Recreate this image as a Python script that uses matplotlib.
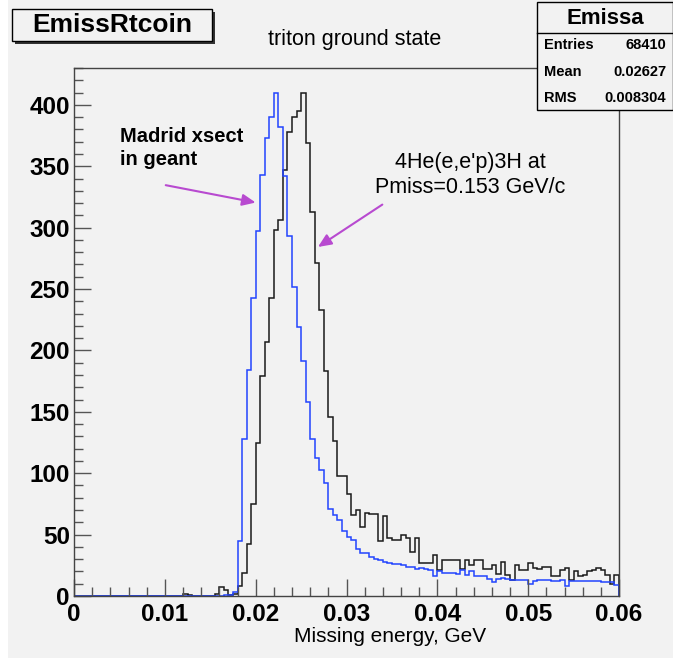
import numpy as np
import matplotlib
matplotlib.use('Agg')
from matplotlib import pyplot as plt
from matplotlib.patches import Rectangle
from matplotlib.ticker import MultipleLocator, FuncFormatter

plt.rcParams['font.family'] = ['Liberation Sans', 'DejaVu Sans']

# binning: 120 bins over 0 - 0.06 GeV
edges = np.linspace(0.0, 0.06, 121)

# 4He(e,e'p)3H data, black histogram (counts)
data_counts = [0] * 24 + [
    2, 1, 0, 0, 0, 0, 0, 2, 7, 5,            # 24-33
    1, 2, 8, 19, 42, 75, 125, 179, 207, 243,  # 34-43
    298, 306, 347, 378, 390, 395, 410, 369, 313, 271,  # 44-53
    233, 183, 146, 126, 98, 98, 83, 66, 70, 56,  # 54-63
    68, 67, 67, 45, 65, 47, 46, 46, 50, 47,   # 64-73
    36, 47, 27, 27, 27, 33, 21, 29, 29, 29,   # 74-83
    29, 22, 29, 25, 29, 29, 22, 22, 25, 18,   # 84-93
    28, 17, 13, 25, 21, 21, 27, 23, 22, 24,   # 94-103
    24, 16, 16, 21, 23, 13, 20, 16, 17, 20,   # 104-113
    21, 23, 21, 17, 10, 17,                   # 114-119
]

# Madrid cross section in geant, blue histogram
sim_counts = [0] * 33 + [
    1, 1, 3, 45, 128, 184, 243, 297, 343,     # 33-41
    373, 390, 410, 382, 342, 293, 252, 219, 191, 158,  # 42-51
    128, 112, 103, 92, 71, 66, 62, 53, 48, 46,  # 52-61
    38, 35, 35, 32, 30, 29, 28, 27, 26, 26,   # 62-71
    25, 24, 24, 22, 23, 22, 21, 16, 20, 19,   # 72-81
    19, 19, 18, 21, 17, 20, 16, 16, 16, 14,   # 82-91
    11, 14, 15, 14, 13, 13, 13, 13, 10, 12,   # 92-101
    13, 13, 13, 12, 12, 13, 8, 12, 12, 12,    # 102-111
    12, 12, 12, 12, 11, 11, 11, 9,            # 112-119
]

W, H = 673, 660
bg = '#f2f2f2'


def fx(x):
    return x / W


def fy(y):
    return 1 - y / H


fig = plt.figure(figsize=(W / 100, H / 100), dpi=100, facecolor='white')
fig.patches.append(Rectangle((fx(8), fy(658)), 1, 1, transform=fig.transFigure,
                             facecolor=bg, edgecolor='none', zorder=-10))

ax = fig.add_axes([fx(74), fy(596), fx(619) - fx(74), fy(68) - fy(596)])
ax.set_facecolor(bg)

ax.stairs(data_counts, edges, color='#1a1a1a', linewidth=1.1, baseline=0)
ax.stairs(sim_counts, edges, color='#2244ff', linewidth=1.1, baseline=0)

ax.set_xlim(0, 0.06)
ax.set_ylim(0, 430)

ax.xaxis.set_major_locator(MultipleLocator(0.01))
ax.xaxis.set_minor_locator(MultipleLocator(0.002))
ax.yaxis.set_major_locator(MultipleLocator(50))
ax.yaxis.set_minor_locator(MultipleLocator(10))
ax.xaxis.set_major_formatter(FuncFormatter(lambda v, p: '0' if abs(v) < 1e-9 else f'{v:.2f}'))
ax.yaxis.set_major_formatter(FuncFormatter(lambda v, p: f'{int(round(v))}'))

ax.tick_params(axis='both', which='major', direction='in', length=12, width=1,
               color='#555555', labelsize=17.5)
ax.tick_params(axis='both', which='minor', direction='in', length=6.5, width=1,
               color='#555555')
ax.tick_params(axis='x', which='major', pad=5)
ax.tick_params(axis='y', which='major', pad=3)
for lab in ax.get_xticklabels() + ax.get_yticklabels():
    lab.set_fontweight('bold')
for s in ax.spines.values():
    s.set_color('#444444')
    s.set_linewidth(1)

fig.text(fx(390), fy(637), 'Missing energy, GeV', fontsize=15, ha='center', va='center')

# title
fig.text(fx(355), fy(40), 'triton ground state', fontsize=15.5, ha='center', va='center')

# name box with shadow
fig.patches.append(Rectangle((fx(15), fy(44)), fx(200), fy(12) - fy(44),
                             transform=fig.transFigure, facecolor='#333333',
                             edgecolor='none'))
fig.patches.append(Rectangle((fx(12), fy(41)), fx(200), fy(9) - fy(41),
                             transform=fig.transFigure, facecolor=bg,
                             edgecolor='black', linewidth=1))
fig.text(fx(112), fy(25), 'EmissRtcoin', fontsize=19, fontweight='bold',
         ha='center', va='center')

# stats box
fig.patches.append(Rectangle((fx(537), fy(110)), fx(673) - fx(537), fy(2) - fy(110),
                             transform=fig.transFigure, facecolor=bg,
                             edgecolor='black', linewidth=1))
fig.add_artist(plt.Line2D([fx(537), fx(673)], [fy(33), fy(33)],
                          transform=fig.transFigure, color='black', linewidth=1))
fig.text(fx(605), fy(18), 'Emissa', fontsize=16, fontweight='bold',
         ha='center', va='center')
stats = [('Entries', '68410', 45), ('Mean', '0.02627', 72), ('RMS', '0.008304', 98)]
for name, val, y in stats:
    fig.text(fx(544), fy(y), name, fontsize=10.5, fontweight='bold', ha='left', va='center')
    fig.text(fx(666), fy(y), val, fontsize=10.5, fontweight='bold', ha='right', va='center')

# annotations
arrow_kw = dict(arrowstyle='-|>,head_length=0.8,head_width=0.35', color='#b84ad0',
                linewidth=1.5)
ax.annotate('', xy=(0.0203, 320), xytext=(0.0098, 335), arrowprops=arrow_kw)
ax.annotate('', xy=(0.0266, 283), xytext=(0.0342, 320), arrowprops=arrow_kw)
fig.text(fx(120), fy(148), 'Madrid xsect\nin geant', fontsize=14.5, fontweight='bold',
         ha='left', va='center', linespacing=1.25)
fig.text(fx(470), fy(175), "4He(e,e'p)3H at\nPmiss=0.153 GeV/c", fontsize=15.5,
         ha='center', va='center', linespacing=1.2)

fig.savefig('out.png', dpi=100, facecolor=fig.get_facecolor())
